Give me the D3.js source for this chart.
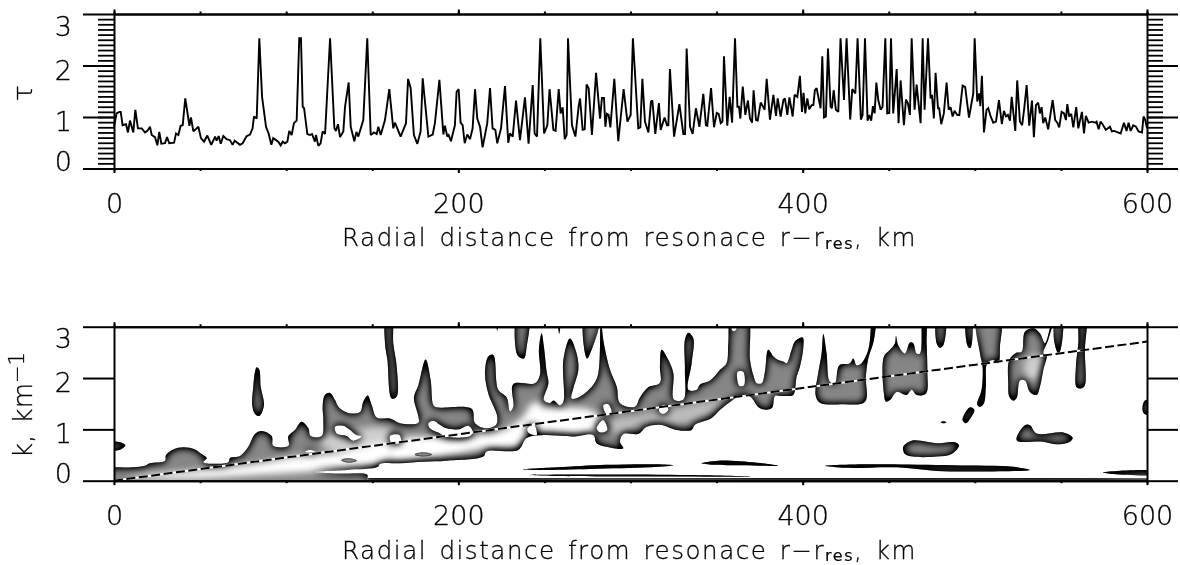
<!DOCTYPE html>
<html>
<head>
<meta charset="utf-8">
<title>Optical depth and wavenumber against radial distance</title>
<script src="https://cdn.jsdelivr.net/npm/d3@7"></script>
<style>
    html, body { margin: 0; padding: 0; background: #fff; }
    svg { display: block; }
    text { font-family: "DejaVu Sans", sans-serif; font-weight: 200; fill: #000; stroke: #000; stroke-width: .3px; opacity: .995; }
</style>
</head>
<body>
<svg id="drawing_region"></svg>
<script>
// optical depth profile, peaks saturate at the plot's cut-off near 2.53
const tauKm = [0,1.5,3.1,3.9,5,7,8.1,9.3,11.2,12.4,13.9,16.1,18,19.4,20.9,21.9,23.8,25.2,26.3,27.5,29.6,30.8,32.1,34.9,36,37.4,38.7,39.9,41.4,43.8,44.7,46.1,49,50.5,52.3,54.2,56.5,58.7,59.6,60.8,62,63.5,65.4,67.4,68.9,70.1,73.2,74.7,77.1,79,80.5,81.3,82.9,84.4,86,88.3,89.8,91.4,92.5,95.4,96.8,98,99.3,100.7,101.8,103.2,104.5,106.1,107.6,108.6,109.6,110.4,112.3,113.8,115,116.7,117.3,118.7,120,121.2,122.6,125.5,128,128.9,130.1,131.3,133.2,134.2,136.3,137.5,139.6,140.8,141.9,144.8,147.1,149.1,151,152.6,153.5,154.9,157.4,159.9,162.2,163.2,166.5,169.6,170.8,172.3,174.2,176.2,178.1,179.3,182.6,185.1,186.4,189,191.3,192.2,193.6,194.4,195.7,198,199,200.2,201.3,202.5,203.7,205.2,206.8,208.3,209.7,211,212.6,214.1,216.8,218.4,219.9,221.5,222.6,224.8,227.1,229,230,231.6,233.5,235.8,238.7,240.8,243.2,244.3,245.7,247.6,249.8,251.7,253,255.2,256.5,258.3,259.4,260.6,261.8,262.9,263.7,266,268,269.9,270.7,272.2,273.4,274.5,275.7,277.6,280,282.3,283.4,284.6,285.4,286.3,287.3,288.3,290.6,292.9,296,298.2,300.1,301.4,304.5,305.7,306.9,308.4,310.4,311.9,312.7,314.4,316.5,317.5,319.8,321.2,322,322.9,325.3,328.4,330.7,331.7,332.6,334.6,336.1,338,340,342.3,343.8,344.6,346.8,348.5,350.1,351.2,352.4,353.4,354.3,356.2,357.6,359,360.7,362.1,363,363.8,365.2,366.7,368.2,369.4,370.6,371.5,372.9,373.9,375.6,377.2,377.9,379.1,381,383,384.5,385.5,387.2,388.8,389.7,391.1,392.3,394.2,395.3,396.9,398.4,399.6,400.5,401.5,402.7,403.8,405.2,406.2,407.1,408.1,410.4,411.4,412.4,413.5,414.7,416.2,417,418,419.3,420.7,422,424,425.5,427.6,428.8,430.6,431.9,433.8,434.8,436.2,437.7,438.7,439.8,440.8,441.8,442.8,443.9,445.3,446.4,448,449.1,450.3,451.3,452.6,454.6,455.7,456.9,458.8,460,461.1,462.3,463.3,465,466.2,468.5,469.7,470.8,472.8,474.3,475.1,476.2,477.2,478.6,479.3,480.5,482,483.6,484.8,485.9,487.1,488.2,489.8,491,492.9,494.4,496.6,499.1,499.9,501.4,502.6,503.2,504.1,505.3,506.8,507.8,509.2,510.7,512.3,514,515.7,516.9,518.1,519.2,520.4,521.4,523.5,524.6,526.2,527.5,528.7,530.1,531.6,533.2,534.3,535.5,536.8,537.8,538.8,539.7,540.9,542.6,545.2,546.7,547.9,549,550.4,551.8,552.9,553.7,554.8,556,557.2,558.9,560.1,562.2,563.4,564.5,566.1,568,570,570.7,571.9,573,574.2,576.1,578.5,579.6,581,582.3,584.7,586.6,588.1,589.3,590.5,592,593.6,595.1,597.1,598,599,600];
const tauVal = [.81,1.07,1.1,1.1,.84,.86,.7,.93,.7,1.14,.78,.78,.7,.73,.81,.65,.61,.45,.71,.48,.49,.61,.49,.5,.68,.65,.83,.84,1.36,.83,.99,.72,.81,.59,.52,.64,.46,.62,.54,.63,.48,.63,.57,.55,.46,.54,.46,.49,.63,.66,.78,1.01,.97,2.53,1.39,.81,.68,.46,.59,.52,.45,.52,.49,.52,.73,.65,.88,.93,2.53,2.53,1.2,1.17,.67,.65,.67,.52,.65,.44,.49,.72,.67,2.53,.78,.73,.86,.61,.72,1.2,1.67,.81,.53,.71,.62,.94,2.53,.65,.7,.67,.81,.65,.94,1.54,.78,.89,.62,.88,1.74,1.56,.65,.48,.72,1.75,.62,.66,.88,1.72,.66,.83,.62,.65,.53,.84,1.49,1.54,.89,.84,.49,.66,.57,.78,1.54,.97,.81,.41,.88,1.56,.78,.75,.49,.78,1.6,.5,.68,.62,1.32,.55,1.38,.48,1.62,.68,.62,2.53,.68,.84,1.54,.75,.73,1.54,1.07,1.19,.57,.65,2.53,.84,.62,1.21,1.36,.75,.76,1.63,1.56,.65,1.86,.97,1.37,1.37,.81,1.06,1.04,.8,1.74,.53,1.54,.91,1.04,2.53,.78,.8,1.74,.91,.7,1.3,1.32,.67,1.27,.75,.99,.84,.84,1.93,.62,1.25,.67,.67,2.33,.81,.67,1.17,.81,1.45,.84,.83,1.56,.8,1.08,1.06,.88,.91,2.18,.83,1.39,.89,2.53,1.2,1.2,.97,1.59,1.04,1.32,.97,.89,1.52,.94,.93,1.28,1.19,1.14,1.74,.95,1.43,1.02,1.36,1.01,1.33,1.36,1.04,1.38,1.01,1.43,1.39,1.8,1.1,1.47,1.07,1.36,1.15,1.23,1.23,1.52,1.56,1.17,2.18,.99,1.01,2.33,1.2,1.17,1.52,1.14,1.1,2.53,1.33,2.53,.95,1.54,1.46,2.53,.95,1.04,2.53,.93,1.04,.93,1.21,1.07,1.67,1.33,1.14,1.2,2.53,1.07,1.08,2.53,1.07,1.93,.88,1.71,.84,1.34,1.27,1.04,2.53,1.14,1.63,.88,2.53,1.14,2.53,1.36,1.43,.97,1.86,1.17,1.17,.86,1.07,1.67,1.14,1.19,1.01,1.12,1.04,1.04,1.61,1.58,.99,1.46,2.53,1.3,1.46,1.21,1.8,.7,1.14,1.17,1.01,.89,.91,1.33,.86,1.12,1.01,1.04,.93,1.39,.73,1.71,.91,.84,1.17,1.62,.83,1.32,.61,1.23,1.28,1.07,1.19,.88,.99,.76,1.33,.94,.89,.8,1.1,1.07,.94,1.25,1.01,1.06,.8,1.19,.78,1.1,.68,1.02,.89,.91,.89,.91,.76,.91,.86,.75,.81,.72,.73,.71,.68,.89,.73,.89,.73,.84,.81,.72,.7,1.01,.94,.78];

// outline of the main wave ridge in the spectrogram, [km, k]
const ridgeOutline = [[-4,.23],[11.2,.26],[18,.29],[20.9,.34],[29.6,.39],[30.2,.5],[34.5,.61],[40.3,.65],[47,.61],[50.9,.52],[53.8,.44],[51.9,.36],[66.4,.36],[67.4,.44],[73.2,.48],[78,.66],[81.9,.91],[85.8,.97],[91.6,.87],[92.5,.68],[101.3,.68],[101.3,.87],[105.1,.99],[109,1.15],[112.9,1.02],[114.2,.87],[120.6,.87],[121.6,1.18],[121.2,1.44],[122.5,1.67],[125.5,1.71],[128.4,1.57],[130.3,1.44],[136.1,1.32],[142.9,1.34],[144.8,1.54],[147.3,1.66],[149.7,1.47],[152.6,1.23],[160.3,1.21],[166.1,1.12],[176.8,1.13],[176.8,1.25],[174.2,1.62],[176.8,1.86],[181,2.36],[183.9,1.96],[185.5,1.47],[187.4,1.43],[207.7,1.4],[209.7,1.12],[216.4,1.02],[221.9,1.09],[222.6,1.25],[217.4,1.7],[215.5,2.09],[217.4,2.42],[220.3,2.45],[223.2,1.77],[228.1,1.62],[230,1.35],[231.9,1.44],[231.9,1.88],[244.5,1.9],[247.4,2.06],[246.8,2.55],[248.4,2.87],[249.7,2.61],[251.3,2.12],[252.3,1.9],[249.7,1.57],[253.2,1.51],[255.2,1.56],[259,1.47],[261,1.54],[261,2.35],[264.8,2.77],[268.7,2.48],[269.7,2.16],[266.8,1.8],[265.8,1.6],[270.7,1.64],[278.4,1.87],[281.3,2.09],[282.7,3.2],[284.2,2.74],[288.1,2.16],[292,1.83],[293.9,1.51],[302.6,1.44],[305.5,1.62],[310.3,1.82],[317.1,1.91],[317.1,2.22],[318.1,2.55],[322,2.35],[324.9,2.09],[325.2,1.58],[330.7,1.58],[331.6,2.16],[331.6,2.74],[333.6,2.88],[336.5,2.77],[335.5,2.29],[333.6,1.77],[338.4,1.77],[340.3,1.87],[346.2,1.95],[352,2.16],[355.8,2.29],[356.8,2.68],[358.7,3.2],[367.8,3.2],[369.4,2.35],[371.3,2.06],[373.3,1.9],[376.2,1.9],[378.1,2.12],[380,2.55],[383,2.42],[385.8,2.35],[388.8,2.32],[390.7,2.29],[393.6,2.55],[395.5,2.71],[400,2.79],[400.4,2.61],[398.4,2.22],[396.5,2.03],[394.5,1.67],[390.7,1.65],[386.8,1.65],[383.9,1.65],[382,1.41],[375.2,1.41],[369.4,1.64],[363.6,1.65],[356.8,1.51],[352,1.38],[347.1,1.22],[337.4,1.09],[335.5,.99],[326.8,.99],[317.1,1.09],[309.4,1.05],[304.5,.91],[295.8,.91],[293.9,.76],[295.8,.63],[286.1,.66],[280.3,.73],[278.4,.89],[267.7,.86],[261.9,.87],[249.4,.89],[239.7,.83],[234.8,.6],[216.4,.57],[214.5,.47],[193.2,.39],[179.7,.37],[166.1,.34],[154.5,.33],[153.3,.27],[135.1,.21],[116.5,.17],[130,.14],[147,.12],[147.3,.05],[147.5,-.02],[147,-.3],[60,-.3],[-4,-.3],[-4,-.1],[-4,.1]];

// gaps inside the ridge
const ridgeGaps = [
    [[128.4,1.05],[133.2,1.07],[140.9,.89],[143.8,.86],[139,.78],[135.1,.87],[129.3,.92]],
    [[182.6,1.12],[185.5,1.17],[189.3,1.09],[193.2,1.02],[200,1],[205.8,1.07],[208.3,.96],[206.8,.87],[192.2,.86],[189.3,.92],[183.5,1.02]],
    [[160.3,.87],[165.7,.89],[166.5,.76],[161.3,.73]],
    [[240.1,1.02],[243.9,1.09],[245.5,.89],[240.6,.94]],
    [[284.2,1.47],[287.1,1.49],[289,1.31],[286.1,1.3]],
    [[280.3,1.02],[284.2,1.18],[286.5,.99],[282.3,.94]],
    [[317.1,1.44],[320,1.48],[322,1.38],[319,1.3],[316.7,1.35]],
    [[362.2,2.12],[365.5,2.12],[365.9,1.86],[363.2,1.85]],
    [[358.7,2.98],[361.6,2.98],[360.7,2.92],[359.3,2.92]],
    [[110.9,.56],[113.8,.6],[117.3,.56],[114.2,.55]]
];

// the detached patches
const patches = [
    [[-3,.74],[3.5,.75],[6.6,.69],[3.9,.61],[-3,.6]],
    [[82.9,2.21],[84.4,2.16],[85.2,1.83],[87.1,1.47],[84.4,1.26],[81.9,1.3],[80.3,1.47],[80.9,1.83],[81.9,2.12]],
    [[158,3.2],[157.4,2.68],[158.8,2.35],[161.3,1.6],[164.2,1.64],[164.2,2.22],[162.2,2.68],[161.3,3.2]],
    [[234.3,3.2],[233.9,2.48],[235.8,2.4],[238.1,2.38],[239.7,2.61],[240.6,3.2]],
    [[257.9,3.2],[258.6,2.86],[259.2,3.2]],
    [[221.9,3.2],[222.6,2.92],[223.2,3.2]],
    [[273.6,3.2],[273.6,2.48],[274.9,2.38],[277.4,2.55],[281.3,2.94],[282.4,3.2]],
    [[412,2.86],[413.9,2.48],[415.8,1.93],[418.7,1.9],[421.3,2.25],[427.5,2.29],[429.4,2.38],[431.3,2.25],[434.2,2.29],[438.1,2.55],[439.5,2.94],[439.5,3.2],[442,3.2],[441.4,2.74],[438.1,2.38],[436.7,2.03],[436.2,1.54],[423.6,1.49],[410,1.52],[407.5,1.67],[409,2.09],[411,2.48]],
    [[454.2,2.82],[455.5,2.64],[459.4,2.48],[462.3,2.69],[464.2,2.68],[466.2,2.48],[468.1,2.48],[469.1,2.97],[469.1,3.2],[471.4,3.2],[472,2.68],[472.4,2.16],[471.6,1.7],[466.2,1.67],[463.3,1.77],[460.4,1.67],[454.6,1.73],[450.7,1.57],[448.4,1.54],[447.2,1.7],[447.2,2.42],[450.7,2.55],[453.6,2.68]],
    [[478.2,3.2],[477.8,2.68],[479.7,2.59],[481.7,2.64],[482.6,3.2]],
    [[495.2,3.2],[495.6,2.64],[497.2,2.58],[498.3,2.68],[497.9,3.2]],
    [[501.4,3.2],[514.6,3.2],[514.6,2.61],[513.6,2.29],[510.7,2.35],[507.2,2.29],[506.4,1.83],[505.3,1.51],[503,1.44],[501.4,1.48],[503.9,1.77],[504.5,2.22],[503,2.48]],
    [[493.3,1.25],[497.2,1.43],[499.7,1.38],[498.1,1.25],[494.8,1.12],[492.9,1.18]],
    [[480.1,1.14],[481.7,1.16],[483.6,1.14],[481.7,1.12]],
    [[529.1,2.9],[533.9,2.97],[537.8,2.87],[540.7,2.68],[543.6,2.97],[545.2,3.2],[546,3.2],[542.6,2.74],[539.8,2.48],[541.7,2.45],[539.8,2.16],[537.8,1.83],[535.9,1.67],[532,1.73],[529.1,1.95],[526.2,1.95],[524.3,1.61],[522.3,1.56],[520,1.64],[519.4,1.9],[520,2.35],[523.9,2.49],[527.2,2.51]],
    [[547.1,3.2],[546,2.74],[548.5,2.48],[549.8,2.55],[550.6,3.2]],
    [[561,3.2],[564.5,3.2],[563.9,2.55],[563.9,1.86],[562,1.8],[559.1,1.82],[558.7,2.22],[560.1,2.68]],
    [[597.4,1.43],[598.8,1.56],[603,1.56],[603,1.28],[598.2,1.31]],
    [[458.4,.66],[463.3,.78],[472,.76],[477.8,.73],[488.4,.75],[490.8,.69],[486.5,.52],[477.8,.47],[464.2,.47],[459.4,.52]],
    [[524.3,.79],[529.1,1.08],[532,1.08],[535.9,.92],[551.4,.94],[556.8,.84],[555.2,.76],[547.5,.71],[539.7,.76]],
    [[412.9,.29],[435.2,.32],[448.8,.32],[487.5,.3],[522.3,.27],[532,.21],[503,.18],[477.8,.19],[454.6,.26],[425.5,.25]],
    [[574.6,.16],[606,.18],[606,.13],[580.4,.13]],
    [[237.7,.22],[257.1,.26],[286.1,.31],[315.2,.32],[324.9,.3],[311.3,.26],[276.5,.23],[247.4,.21]],
    [[341.3,.34],[351,.39],[373.3,.35],[385.8,.29],[365.5,.3],[348.1,.31]],
    [[240.6,.11],[276.5,.12],[334.5,.11],[371.3,.08],[315.2,.08],[257.1,.09]]
];

// thin band that runs along k = 0 to the right of the ridge, drawn with straight edges
const floorBand = [[147.6,.055],[610,.05],[610,-.3],[147.6,-.3]];

// high amplitude cores and how bright they get (0..1)
const cores = [
    [[8,.09],[42.2,.18],[80.9,.32],[104.2,.46],[127.4,.53],[160.3,.73],[160.3,.4],[127.4,.22],[88.7,.12],[30.6,.03]],
    [[160.3,.76],[199,.86],[224.2,.96],[237.7,1.25],[241.6,1.47],[245.5,1.54],[249.4,1.44],[276.5,1.38],[282.3,1.18],[276.5,.92],[247.4,.92],[233.9,.66],[216.4,.63],[189.3,.47],[160.3,.4]],
    [[288.1,1.15],[311.3,1.31],[353.9,1.54],[346.2,1.31],[330.7,1.12],[307.4,1.12],[292,.89]],
    [[529.1,2.35],[538.8,2.45],[537.8,2.03],[531,1.96]],
    [[119.6,.79],[152.6,1.05],[160.3,.99],[160.3,.76],[127.4,.57]]
];
const coreLevels = [1, 1, .45, .6, .6];

// small closed contours sitting inside the bright ridge
const eyes = [
    [[174.8,.51],[179.7,.545],[184.5,.51],[179.7,.48]],
    [[132.2,.4],[136.1,.43],[140.9,.39],[136.1,.36]]
];

// dispersion curve laid over the spectrogram
const curveKm = [0, 600];
const curveK = [0, 2.71];

const xMajor = [0, 200, 400, 600];
const xMinor = d3.range(0, 601, 50);
const yMajor = [0, 1, 2, 3];
const tauMinor = d3.range(1, 30).map(d => d / 10);
const labelShift = [-8.5, 3, 3.5, 11];

const config = { width: 1180, height: 565, left: 114, right: 1147 };
const panels = {
    top: { y0: 168.5, y1: 14 },
    bottom: { y0: 480.7, y1: 326.7 }
};

const svg = d3.select('#drawing_region')
    .attr('width', config.width)
    .attr('height', config.height);

const x = d3.scaleLinear().domain([0, 600]).range([config.left, config.right]);
const yTau = d3.scaleLinear().domain([0, 3]).range([panels.top.y0, panels.top.y1]);
const yK = d3.scaleLinear().domain([0, 3]).range([panels.bottom.y0, panels.bottom.y1]);

const defs = svg.append('defs');

// dark rim along the contour: black where the blurred shape is thin, clear deep inside
const rim = defs.append('filter')
    .attr('id', 'rim')
    .attr('filterUnits', 'userSpaceOnUse')
    .attr('x', 0).attr('y', 300).attr('width', config.width).attr('height', 220);
rim.append('feGaussianBlur').attr('in', 'SourceAlpha').attr('stdDeviation', 4.5);
rim.append('feComponentTransfer')
    .append('feFuncA').attr('type', 'table')
    .attr('tableValues', '1 1 1 1 1 .9 .72 .55 .38 .18 0');

const soft = defs.append('filter')
    .attr('id', 'soft')
    .attr('filterUnits', 'userSpaceOnUse')
    .attr('x', 0).attr('y', 300).attr('width', config.width).attr('height', 220);
soft.append('feGaussianBlur').attr('stdDeviation', 3.5);

const straight = d3.line().x(d => x(d[0])).y(d => yK(d[1]));
const smooth = d3.line().x(d => x(d[0])).y(d => yK(d[1]))
    .curve(d3.curveCatmullRomClosed.alpha(0.5));
const wavePath = [ridgeOutline].concat(ridgeGaps, patches).map(pts => smooth(pts)).join('')
    + straight(floorBand) + 'Z';

defs.append('clipPath').attr('id', 'plotClip')
    .append('rect')
    .attr('x', config.left).attr('y', panels.bottom.y1)
    .attr('width', config.right - config.left)
    .attr('height', panels.bottom.y0 - panels.bottom.y1);
defs.append('clipPath').attr('id', 'waveClip')
    .append('path')
    .attr('d', wavePath)
    .attr('clip-rule', 'evenodd');

// spectrogram
const spec = svg.append('g').attr('clip-path', 'url(#plotClip)')
    .append('g').attr('clip-path', 'url(#waveClip)');
spec.append('rect')
    .attr('x', config.left - 10).attr('y', panels.bottom.y1 - 20)
    .attr('width', config.right - config.left + 20)
    .attr('height', panels.bottom.y0 - panels.bottom.y1 + 30)
    .attr('fill', '#868686');
spec.selectAll('path.core')
    .data(cores)
    .join('path')
    .attr('class', 'core')
    .attr('d', d => smooth(d))
    .attr('fill', '#fff')
    .attr('opacity', (d, i) => coreLevels[i])
    .attr('filter', 'url(#soft)');
spec.append('path')
    .attr('d', wavePath)
    .attr('fill', '#000')
    .attr('fill-rule', 'evenodd')
    .attr('filter', 'url(#rim)');
spec.selectAll('path.eye')
    .data(eyes)
    .join('path')
    .attr('class', 'eye')
    .attr('d', d => smooth(d))
    .attr('fill', '#8a8a8a')
    .attr('stroke', '#3a3a3a')
    .attr('stroke-width', 1);

// dispersion curve, white under black dashes
const curve = d3.line().x(d => x(d)).y((d, i) => yK(curveK[i]));
svg.append('path').attr('d', curve(curveKm))
    .attr('fill', 'none').attr('stroke', '#fff').attr('stroke-width', 2);
svg.append('path').attr('d', curve(curveKm))
    .attr('fill', 'none').attr('stroke', '#000').attr('stroke-width', 2)
    .attr('stroke-dasharray', '9 3.5');

// optical depth line
svg.append('path')
    .attr('d', d3.line().x(d => x(d)).y((d, i) => yTau(tauVal[i]))(tauKm))
    .attr('fill', 'none')
    .attr('stroke', '#000')
    .attr('stroke-width', 1.9)
    .attr('stroke-linejoin', 'miter')
    .attr('stroke-miterlimit', 2);

function drawFrame(y, panel) {
    const frame = svg.append('g');
    const place = g => g.call(s => s.selectAll('line').attr('stroke', '#000').attr('stroke-width', 2))
        .call(s => s.selectAll('.domain').attr('stroke', '#000').attr('stroke-width', 2));
    const add = (axis, dx, dy) => frame.append('g')
        .attr('transform', `translate(${dx},${dy})`)
        .call(axis)
        .call(place);

    add(d3.axisBottom(x).tickValues(xMinor).tickSize(2.5).tickFormat('').tickSizeOuter(0), 0, panel.y0);
    add(d3.axisTop(x).tickValues(xMinor).tickSize(2.5).tickFormat('').tickSizeOuter(0), 0, panel.y1);
    add(d3.axisTop(x).tickValues(xMajor).tickSize(4.5).tickFormat('').tickSizeOuter(0), 0, panel.y1);
    const bottom = add(d3.axisBottom(x).tickValues(xMajor).tickSize(4.5).tickFormat(d3.format('d')).tickSizeOuter(0), 0, panel.y0);
    bottom.selectAll('text')
        .attr('y', 44.5).attr('dy', 0)
        .style('font-size', '27px').style('font-family', null);

    const left = add(d3.axisLeft(y).tickValues(yMajor).tickSize(31).tickPadding(11).tickSizeOuter(0).tickFormat(d3.format('d')), config.left, 0);
    left.selectAll('text')
        .attr('dy', (d, i) => `${labelShift[i] + 10}px`)
        .style('font-size', '27px').style('font-family', null);
    add(d3.axisRight(y).tickValues(yMajor).tickSize(31).tickSizeOuter(0).tickFormat(''), config.right, 0);
    return frame;
}

drawFrame(yTau, panels.top);
drawFrame(yK, panels.bottom);

// fine comb on both sides of the optical depth panel
[[d3.axisLeft, config.left], [d3.axisRight, config.right]].forEach(([axis, pos]) => {
    svg.append('g')
        .attr('transform', `translate(${pos},0)`)
        .call(axis(yTau).tickValues(tauMinor).tickSize(16).tickFormat('').tickSizeOuter(0))
        .call(s => s.select('.domain').remove())
        .selectAll('line').attr('stroke', '#000').attr('stroke-width', 1.8);
});

// axis titles
[panels.top, panels.bottom].forEach(panel => {
    const title = svg.append('text')
        .attr('x', (config.left + config.right) / 2 - 1)
        .attr('y', panel.y0 + 77.8)
        .attr('text-anchor', 'middle')
        .style('font-size', '24.5px')
        .style('letter-spacing', '1.55px')
        .style('word-spacing', '3px');
    title.append('tspan').text('Radial distance from resonace r\u2212r');
    title.append('tspan').attr('dy', 2.5).style('font-size', '16px').style('font-weight', 400).style('stroke-width', '.15px').text('res');
    title.append('tspan').attr('dy', -2.5).text(', km');
});

svg.append('text')
    .attr('transform', 'translate(32,93) rotate(-90)')
    .attr('text-anchor', 'middle')
    .style('font-size', '27px')
    .text('\u03c4');

const kLabel = svg.append('text')
    .attr('transform', 'translate(32,405) rotate(-90)')
    .attr('text-anchor', 'middle')
    .style('font-size', '26px')
    .style('word-spacing', '3px');
kLabel.append('tspan').text('k, km');
kLabel.append('tspan').attr('dy', -8).style('font-size', '21px').text('\u22121');
</script>
</body>
</html>
